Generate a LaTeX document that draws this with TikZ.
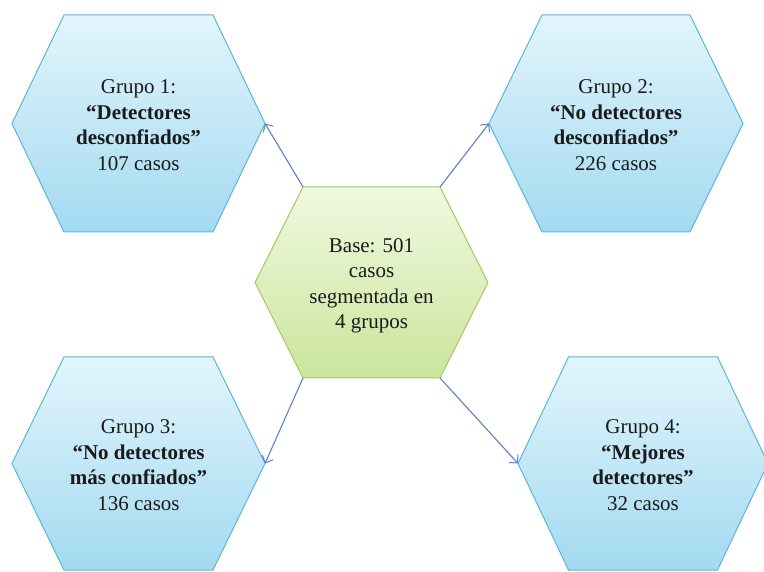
\documentclass[tikz,border=0pt]{standalone}
\usepackage{fontspec}
\setmainfont{Liberation Serif}
\usetikzlibrary{arrows.meta}
\definecolor{bluetop}{HTML}{E2F5FC}
\definecolor{bluebot}{HTML}{A3DAF1}
\definecolor{blueedge}{HTML}{5CB6D4}
\definecolor{greentop}{HTML}{F0F8E0}
\definecolor{greenbot}{HTML}{CBE59C}
\definecolor{greenedge}{HTML}{A6C865}
\definecolor{arrowc}{HTML}{5E80C6}
\definecolor{textc}{HTML}{1A1A1A}
\tikzset{
  hexlabel/.style={align=center, text=textc, font=\fontsize{21}{25.5}\selectfont, inner sep=0pt},
  bluehex/.style={top color=bluetop, bottom color=bluebot, draw=blueedge, line width=1pt},
  greenhex/.style={top color=greentop, bottom color=greenbot, draw=greenedge, line width=1pt},
  link/.style={draw=arrowc, line width=1.1pt, -{Straight Barb[length=6pt,width=12pt,line width=1pt]}}
}
% \hexa{name}{cx}{cy}{half width}{half top edge}{half height}{style}
\newcommand{\hexa}[7]{%
  \coordinate (#1-l) at (#2-#4,#3);
  \coordinate (#1-r) at (#2+#4,#3);
  \coordinate (#1-tl) at (#2-#5,#3+#6);
  \coordinate (#1-tr) at (#2+#5,#3+#6);
  \coordinate (#1-bl) at (#2-#5,#3-#6);
  \coordinate (#1-br) at (#2+#5,#3-#6);
  \path[#7] (#1-l) -- (#1-tl) -- (#1-tr) -- (#1-r) -- (#1-br) -- (#1-bl) -- cycle;
}
\begin{document}
\begin{tikzpicture}[x=1pt,y=1pt]
\useasboundingbox (0,0) rectangle (764,571);
\clip (0,0) rectangle (764,571);
\fill[white] (0,0) rectangle (764,571);

\hexa{g1}{138.5}{447.5}{126.5}{74.5}{108.5}{bluehex}
\hexa{g2}{616}{447.5}{127}{74}{108.5}{bluehex}
\hexa{g3}{138.5}{107.5}{126.5}{74.5}{106.5}{bluehex}
\hexa{g4}{643}{107.5}{125}{74.5}{106.5}{bluehex}
\hexa{c}{371.5}{288.5}{116.5}{68.5}{95.5}{greenhex}

\node[hexlabel] (t1) at (138.5,446) {Grupo 1:\\\textbf{“Detectores}\\\textbf{desconfiados”}\\107 casos};
\node[hexlabel] (t2) at (616,446) {Grupo 2:\\\textbf{“No detectores}\\\textbf{desconfiados”}\\226 casos};
\node[hexlabel] (t3) at (138.5,106) {Grupo 3:\\\textbf{“No detectores}\\\textbf{más confiados”}\\136 casos};
\node[hexlabel] (t4) at (643,106) {Grupo 4:\\\textbf{“Mejores}\\\textbf{detectores”}\\32 casos};
\node[hexlabel] (tc) at (371.5,285) {Base: 501\\casos\\segmentada en\\4 grupos};

\draw[link] (c-tl) -- (g1-r);
\draw[link] (c-tr) -- (g2-l);
\draw[link] (c-bl) -- (g3-r);
\draw[link] (c-br) -- (g4-l);
\end{tikzpicture}
\end{document}
